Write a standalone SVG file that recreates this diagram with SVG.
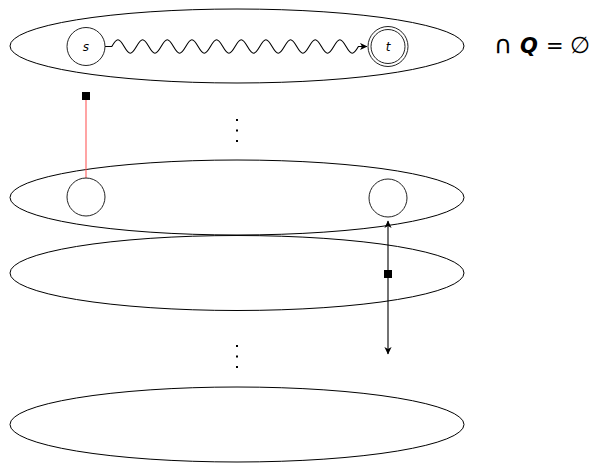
<svg xmlns="http://www.w3.org/2000/svg" width="591" height="463" viewBox="0 0 591 463">
<defs>
<style>
.ell{fill:none;stroke:#000;stroke-width:1}
.node{fill:#fff;stroke:#222;stroke-width:1}
.lbl{font-family:"DejaVu Sans","Liberation Sans",sans-serif;font-style:italic;font-size:12px;text-anchor:middle;fill:#000}
.dot{fill:#000}
.sq{fill:#000}
.math{font-family:"DejaVu Sans","Liberation Sans",sans-serif;font-size:21px;fill:#000}
</style>
<marker id="arr" viewBox="-8 -4 9 8" refX="0" refY="0" markerWidth="9" markerHeight="8" markerUnits="userSpaceOnUse" orient="auto-start-reverse">
<path d="M0.5,0 L-7,-3.6 L-5,0 L-7,3.6 Z" fill="#000"/>
</marker>
</defs>
<rect width="591" height="463" fill="#fff"/>
<g id="layers">
<ellipse id="layer1" class="ell" cx="237" cy="46" rx="227" ry="37"/>
<ellipse id="layer2" class="ell" cx="237" cy="197.5" rx="227" ry="37.5"/>
<ellipse id="layer3" class="ell" cx="237" cy="273" rx="227" ry="37.5"/>
<ellipse id="layer4" class="ell" cx="237" cy="424.5" rx="227" ry="37.5"/>
</g>
<g id="connectors">
<path id="wave" d="M105,46.5 L111.8,46.5 c5.2,-9 7.1,-9 12.33,0 c5.2,9 7.1,9 12.33,0 c5.2,-9 7.1,-9 12.33,0 c5.2,9 7.1,9 12.33,0 c5.2,-9 7.1,-9 12.33,0 c5.2,9 7.1,9 12.33,0 c5.2,-9 7.1,-9 12.33,0 c5.2,9 7.1,9 12.33,0 c5.2,-9 7.1,-9 12.33,0 c5.2,9 7.1,9 12.33,0 c5.2,-9 7.1,-9 12.33,0 c5.2,9 7.1,9 12.33,0 c5.2,-9 7.1,-9 12.33,0 c5.2,9 7.1,9 12.33,0 c5.2,-9 7.1,-9 12.33,0 c5.2,9 7.1,9 12.33,0 c5.2,-9 7.1,-9 12.33,0 c5.2,9 7.1,9 12.33,0 c5.2,-9 7.1,-9 12.33,0 c5.2,9 7.1,9 12.33,0 L367,46.5" fill="none" stroke="#000" stroke-width="1.1" marker-end="url(#arr)"/>
<line id="red" x1="86" y1="100" x2="86" y2="178" stroke="#ff5a5a" stroke-width="1.1"/>
<rect class="sq" x="82" y="92" width="8" height="8"/>
<line id="vert" x1="388" y1="221" x2="388" y2="354" stroke="#000" stroke-width="1.1" marker-start="url(#arr)" marker-end="url(#arr)"/>
<rect class="sq" x="384" y="270" width="8" height="8"/>
</g>
<g id="node-s">
<circle class="node" cx="86" cy="46.5" r="19"/>
<text class="lbl" x="86" y="51">s</text>
</g>
<g id="node-t">
<circle class="node" cx="388" cy="46.5" r="20"/>
<circle class="node" cx="388" cy="46.5" r="17"/>
<text class="lbl" x="388" y="51">t</text>
</g>
<g id="node-a">
<circle class="node" cx="86" cy="197" r="19"/>
</g>
<g id="node-b">
<circle class="node" cx="388" cy="198" r="19"/>
</g>
<g id="vdots1">
<rect class="dot" x="236" y="119" width="2" height="2"/>
<rect class="dot" x="236" y="129.5" width="2" height="2"/>
<rect class="dot" x="236" y="140" width="2" height="2"/>
</g>
<g id="vdots2">
<rect class="dot" x="236" y="345" width="2" height="2"/>
<rect class="dot" x="236" y="355.5" width="2" height="2"/>
<rect class="dot" x="236" y="366" width="2" height="2"/>
</g>
<text class="math" y="53"><tspan x="494" font-size="25">∩</tspan><tspan x="520" font-style="italic" font-weight="bold">Q</tspan><tspan x="546">=</tspan><tspan x="570" font-size="23">∅</tspan></text>
</svg>
